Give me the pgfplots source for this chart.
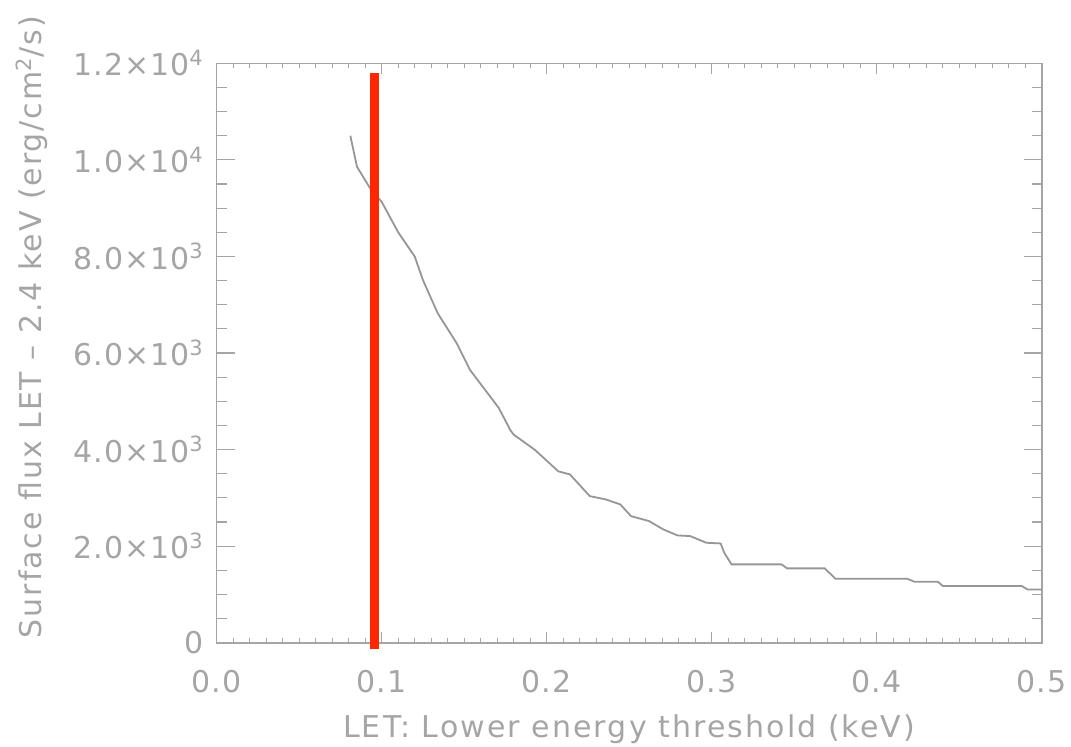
\documentclass[border=0pt]{standalone}
\usepackage{pgfplots}
\pgfplotsset{compat=1.18}
\usepackage{fontspec}
\setmainfont{DejaVu Sans}
\definecolor{idlgray}{RGB}{165,165,165}
\definecolor{curvegray}{RGB}{150,150,150}
\definecolor{redline}{RGB}{255,38,0}
\begin{document}
\begin{tikzpicture}
\begin{axis}[
  scale only axis, width=412.5pt, height=289.7pt,
  xmin=0, xmax=0.5, ymin=0, ymax=12000,
  scaled y ticks=false, scaled x ticks=false,
  xtick={0,0.1,0.2,0.3,0.4,0.5},
  xticklabels={0.0,0.1,0.2,0.3,0.4,0.5},
  ytick={0,2000,4000,6000,8000,10000,12000},
  yticklabels={0,
    2.0×10\textsuperscript{3},
    4.0×10\textsuperscript{3},
    6.0×10\textsuperscript{3},
    8.0×10\textsuperscript{3},
    1.0×10\textsuperscript{4},
    1.2×10\textsuperscript{4}},
  minor x tick num=9, minor y tick num=3,
  tick align=inside,
  axis line style={idlgray, line width=0.8pt},
  every tick/.style={idlgray, line width=0.6pt},
  x tick style={/pgfplots/major tick length=5.5pt, /pgfplots/minor tick length=2.5pt},
  y tick style={/pgfplots/major tick length=9pt, /pgfplots/minor tick length=5pt},
  tick label style={text=idlgray, font=\fontsize{15}{17}\selectfont\addfontfeatures{LetterSpace=3}},
  xticklabel style={yshift=-10pt},
  yticklabel style={xshift=-3pt},
  xlabel={LET: Lower energy threshold (keV)},
  ylabel={Surface flux LET -- 2.4 keV (erg/cm\textsuperscript{2}/s)},
  xlabel style={text=idlgray, font=\fontsize{15}{17}\selectfont\addfontfeatures{LetterSpace=7},
    at={(axis description cs:0.5,-0.1628)}, anchor=base},
  ylabel style={text=idlgray, font=\fontsize{15}{17}\selectfont\addfontfeatures{LetterSpace=6.5},
    at={(axis description cs:-0.2118,0.545)}, anchor=base, rotate=0},
  clip=false,
]
\addplot[curvegray, line width=0.9pt] coordinates {
(0.081,10500) (0.085,9860) (0.093,9410) (0.100,9130) (0.110,8500)
(0.120,8000) (0.125,7510) (0.134,6820) (0.1455,6200) (0.1535,5650)
(0.1657,5100) (0.1710,4860) (0.1780,4400) (0.1800,4310) (0.1930,3990)
(0.2070,3550) (0.2141,3485) (0.2261,3036) (0.2359,2967) (0.2446,2864)
(0.2511,2622) (0.262,2519) (0.2707,2346) (0.2793,2222) (0.287,2208)
(0.2967,2070) (0.3054,2056) (0.3076,1863) (0.312,1622) (0.3424,1622)
(0.3457,1539) (0.3685,1539) (0.375,1325) (0.4185,1325) (0.4228,1263)
(0.437,1263) (0.4402,1173) (0.488,1173) (0.4913,1104) (0.5,1100)
};
\addplot[redline, line width=4.5pt] coordinates {(0.0959,-137) (0.0959,11794)};
\end{axis}
\pgfresetboundingbox
\path (-108.35pt,-51.65pt) rectangle (427.15pt,321.35pt);
\end{tikzpicture}
\end{document}
